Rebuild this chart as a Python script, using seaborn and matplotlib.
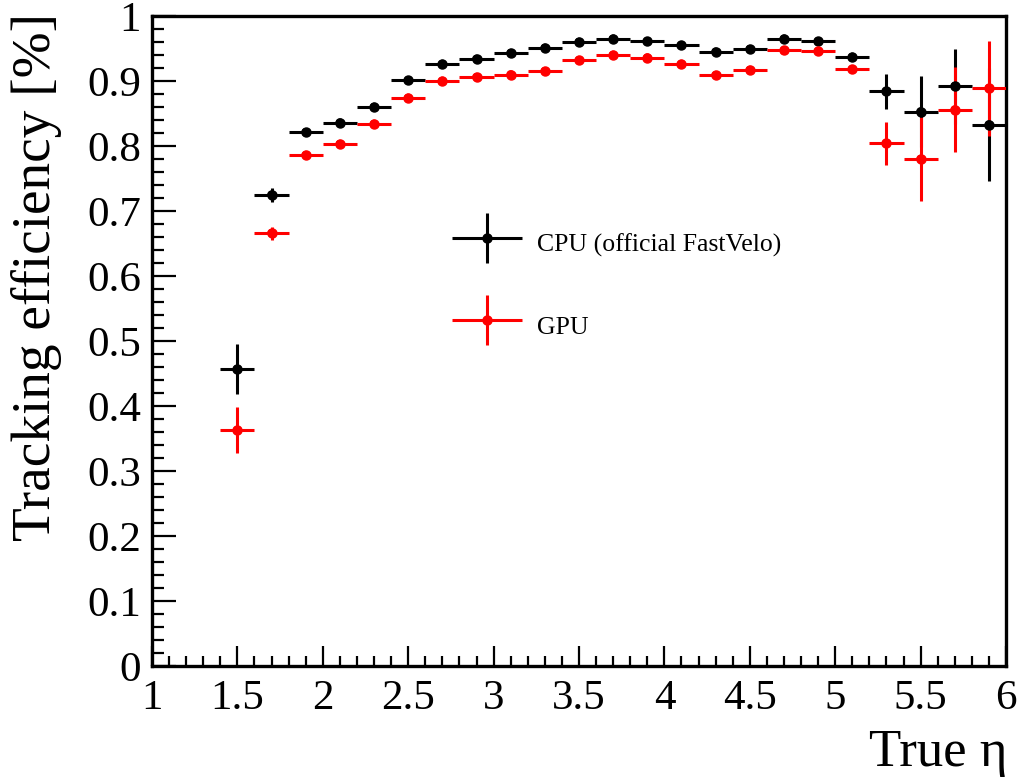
import numpy as np
import pandas as pd
import matplotlib
matplotlib.use("Agg")
import matplotlib.pyplot as plt
from matplotlib.ticker import MultipleLocator, FuncFormatter
from matplotlib.legend_handler import HandlerErrorbar
import seaborn as sns

# ---- data ----
eta = [1.5, 1.7, 1.9, 2.1, 2.3, 2.5, 2.7, 2.9, 3.1, 3.3, 3.5, 3.7,
       3.9, 4.1, 4.3, 4.5, 4.7, 4.9, 5.1, 5.3, 5.5, 5.7, 5.9]
bin_half_width = [0.1] * len(eta)
cpu_eff = [0.457, 0.725, 0.821, 0.836, 0.860, 0.901, 0.926, 0.934, 0.943,
           0.951, 0.960, 0.965, 0.961, 0.955, 0.945, 0.949, 0.965, 0.961,
           0.937, 0.884, 0.853, 0.892, 0.833]
cpu_err = [0.038, 0.011, 0.006, 0.005, 0.005, 0.004, 0.004, 0.003, 0.003,
           0.003, 0.003, 0.003, 0.003, 0.003, 0.003, 0.003, 0.003, 0.003,
           0.004, 0.027, 0.055, 0.058, 0.087]
gpu_eff = [0.363, 0.666, 0.786, 0.803, 0.834, 0.874, 0.900, 0.906, 0.910,
           0.915, 0.932, 0.940, 0.936, 0.926, 0.909, 0.917, 0.947, 0.946,
           0.918, 0.804, 0.780, 0.856, 0.889]
gpu_err = [0.036, 0.010, 0.006, 0.005, 0.005, 0.004, 0.004, 0.004, 0.004,
           0.004, 0.003, 0.003, 0.003, 0.003, 0.004, 0.004, 0.003, 0.003,
           0.005, 0.033, 0.064, 0.065, 0.073]
series_labels = ["CPU (official FastVelo)", "GPU"]
series_colors = ["black", "#ff0000"]

df = pd.concat([
    pd.DataFrame({"eta": eta, "eff": cpu_eff, "err": cpu_err,
                  "xerr": bin_half_width, "algo": series_labels[0]}),
    pd.DataFrame({"eta": eta, "eff": gpu_eff, "err": gpu_err,
                  "xerr": bin_half_width, "algo": series_labels[1]}),
])

sns.set_theme(style="ticks")
plt.rcParams["font.family"] = ["Liberation Serif", "DejaVu Serif"]
plt.rcParams["text.color"] = "black"
plt.rcParams["axes.labelcolor"] = "black"

fig = plt.figure(figsize=(10.23, 7.78), dpi=100)
ax = fig.add_axes([152 / 1023, 1 - 666 / 778, 854 / 1023, 650 / 778])

handles = []
for lab, col in zip(series_labels, series_colors):
    sub = df[df["algo"] == lab]
    h = ax.errorbar(sub["eta"], sub["eff"], yerr=sub["err"], xerr=sub["xerr"],
                    fmt="o", color=col, ecolor=col, markersize=6.5,
                    elinewidth=2.2, capsize=0, label=lab, zorder=3)
    handles.append(h)

sns.scatterplot(data=df, x="eta", y="eff", hue="algo",
                palette=dict(zip(series_labels, series_colors)),
                s=40, edgecolor="none", legend=False, ax=ax, zorder=4)

ax.set_xlim(1, 6)
ax.set_ylim(0, 1)
ax.xaxis.set_major_locator(MultipleLocator(0.5))
ax.xaxis.set_minor_locator(MultipleLocator(0.1))
ax.yaxis.set_major_locator(MultipleLocator(0.1))
ax.yaxis.set_minor_locator(MultipleLocator(0.02))
fmt = FuncFormatter(lambda v, p: ("%g" % round(v, 3)))
ax.xaxis.set_major_formatter(fmt)
ax.yaxis.set_major_formatter(fmt)

ax.tick_params(which="both", direction="in", top=False, right=False,
               width=1.6, color="black", labelsize=31, labelcolor="black")
ax.tick_params(axis="y", which="major", length=17, pad=8)
ax.tick_params(axis="y", which="minor", length=8.5)
ax.tick_params(axis="x", which="major", length=14.5, pad=10)
ax.tick_params(axis="x", which="minor", length=7)

for sp in ax.spines.values():
    sp.set_linewidth(2.4)
    sp.set_color("black")
    sp.set_visible(True)

ax.set_xlabel("True η", fontsize=38, loc="right", va="baseline", color="black")
ax.xaxis.set_label_coords(1.0023, -(766 - 666) / 650)
ax.set_ylabel("Tracking efficiency [%]", fontsize=39.8, loc="top", color="black")
ax.yaxis.set_label_coords(-0.105, 1.005)

leg = ax.legend(handles=handles, labels=series_labels,
                handler_map={type(handles[0]): HandlerErrorbar(xerr_size=1.36, yerr_size=0.97)},
                loc="center left", bbox_to_anchor=(452 / 1023, 1 - 284.5 / 778),
                bbox_transform=fig.transFigure, frameon=False, fontsize=18.5,
                handlelength=2.72, handleheight=1.95, handletextpad=0.58,
                labelspacing=1.68, borderpad=0, borderaxespad=0)
for t in leg.get_texts():
    t.set_color("black")

fig.savefig("out.png", dpi=100)
